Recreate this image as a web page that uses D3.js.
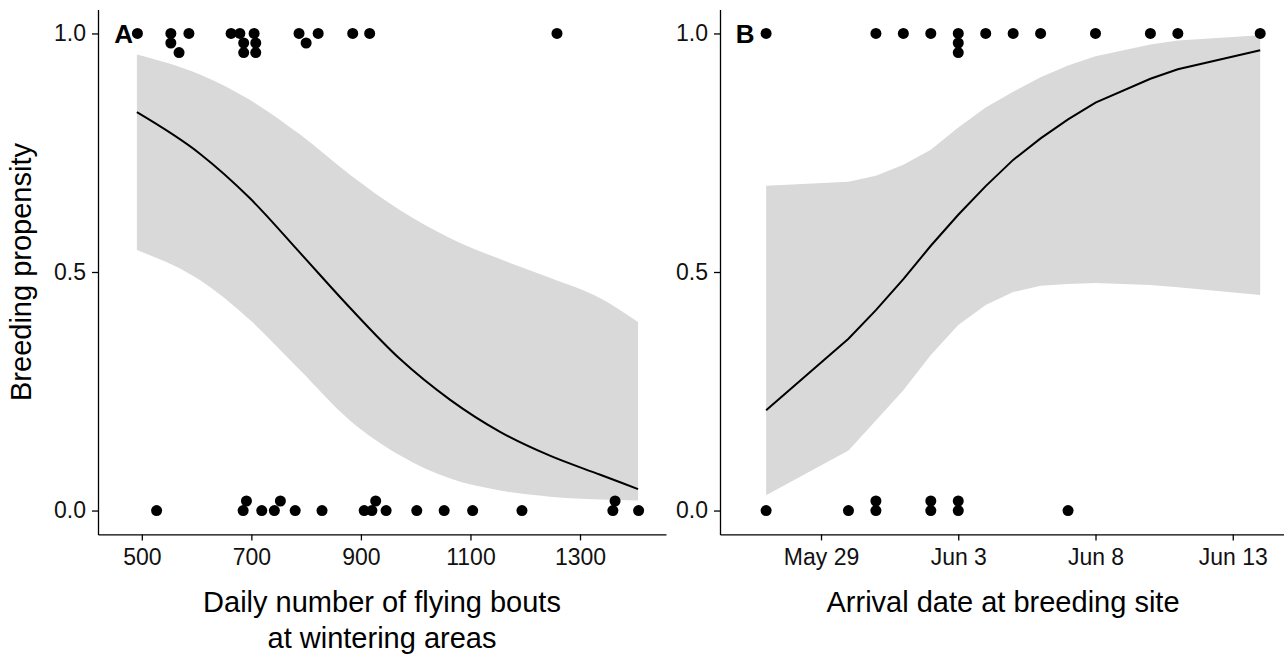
<!DOCTYPE html>
<html>
<head>
<meta charset="utf-8">
<script src="https://cdn.jsdelivr.net/npm/d3@7"></script>
<style>
  body { margin: 0; background: #fff; }
  svg { display: block; font-family: "Liberation Sans", Arial, sans-serif; }
</style>
</head>
<body>
<div id="chart"></div>
<script>
// ---- panel A: flying bouts ----
const boutsX = [492, 553, 553, 568, 586, 663, 679, 686, 686, 705, 708, 708, 787, 800, 822, 885, 916, 1258,
                527, 685, 691, 719, 742, 753, 780, 829, 906, 920, 927, 946, 1002, 1052, 1104, 1194, 1360, 1364, 1407];
const boutsY = [1, 1, 0.98, 0.96, 1, 1, 1, 0.98, 0.96, 1, 0.98, 0.96, 1, 0.98, 1, 1, 1, 1,
                0, 0, 0.02, 0, 0, 0.02, 0, 0, 0, 0, 0.02, 0, 0, 0, 0, 0, 0, 0.02, 0];
const boutsFitX = [491, 606, 697, 789, 880, 971, 1063, 1154, 1245, 1337, 1406];
const boutsFit = [0.835, 0.748, 0.655, 0.54, 0.425, 0.318, 0.232, 0.165, 0.115, 0.075, 0.045];
const boutsHi = [0.956, 0.914, 0.861, 0.788, 0.704, 0.63, 0.571, 0.527, 0.488, 0.445, 0.395];
const boutsLo = [0.546, 0.483, 0.40, 0.294, 0.189, 0.116, 0.067, 0.042, 0.029, 0.023, 0.021];
const boutsTicks = [500, 700, 900, 1100, 1300];

// ---- panel B: arrival date ----
const arrivalDates = ["2015-05-27", "2015-05-31", "2015-06-01", "2015-06-02", "2015-06-03", "2015-06-03", "2015-06-03",
                      "2015-06-04", "2015-06-05", "2015-06-06", "2015-06-08", "2015-06-10", "2015-06-11", "2015-06-14",
                      "2015-05-27", "2015-05-30", "2015-05-31", "2015-05-31", "2015-06-02", "2015-06-02",
                      "2015-06-03", "2015-06-03", "2015-06-07"];
const arrivalY = [1, 1, 1, 1, 1, 0.98, 0.96, 1, 1, 1, 1, 1, 1, 1,
                  0, 0, 0, 0.02, 0, 0.02, 0, 0.02, 0];
const fitDates = ["2015-05-27", "2015-05-30", "2015-05-31", "2015-06-01", "2015-06-02", "2015-06-03", "2015-06-04",
                  "2015-06-05", "2015-06-06", "2015-06-07", "2015-06-08", "2015-06-10", "2015-06-11", "2015-06-14"];
const arrivalFit = [0.21, 0.36, 0.42, 0.485, 0.555, 0.62, 0.68, 0.735, 0.78, 0.82, 0.855, 0.905, 0.925, 0.965];
const arrivalHi = [0.681, 0.689, 0.702, 0.725, 0.756, 0.803, 0.845, 0.878, 0.908, 0.933, 0.952, 0.977, 0.985, 0.996];
const arrivalLo = [0.032, 0.126, 0.189, 0.252, 0.326, 0.389, 0.431, 0.458, 0.471, 0.475, 0.477, 0.473, 0.468, 0.452];
const dateTicks = ["2015-05-29", "2015-06-03", "2015-06-08", "2015-06-13"];

const yTicks = [0, 0.5, 1];

const W = 1284, H = 655;
const parse = d3.timeParse("%Y-%m-%d");

const svg = d3.select("#chart").append("svg")
    .attr("width", W)
    .attr("height", H);

svg.append("rect").attr("width", W).attr("height", H).attr("fill", "#fff");

const y = d3.scaleLinear().domain([-0.05, 1.05]).range([534.4, 9.6]);

const xA = d3.scaleLinear().domain([420, 1457]).range([98, 666]);
const xB = d3.scaleTime()
    .domain([parse("2015-05-25").getTime() + 0.32 * 864e5, parse("2015-06-14").getTime() + 0.94 * 864e5])
    .range([720, 1286]);

function styleAxis(g) {
    g.selectAll(".domain").attr("stroke", "#000").attr("stroke-width", 1.3);
    g.selectAll(".tick line").attr("stroke", "#000").attr("stroke-width", 1.3);
    g.selectAll(".tick text").attr("fill", "#111").style("font-size", "23px")
        .attr("font-family", "Liberation Sans, Arial, sans-serif");
}

function drawPanel(x, fx, fit, lo, hi, px, py, curve, xAxis, label, labelX) {
    const band = d3.area()
        .x((d, i) => x(fx[i]))
        .y0((d, i) => y(lo[i]))
        .y1((d, i) => y(hi[i]))
        .curve(curve);
    svg.append("path").datum(fx).attr("d", band).attr("fill", "#d9d9d9");

    const line = d3.line()
        .x((d, i) => x(fx[i]))
        .y((d, i) => y(fit[i]))
        .curve(curve);
    svg.append("path").datum(fx).attr("d", line)
        .attr("fill", "none").attr("stroke", "#000").attr("stroke-width", 2);

    svg.append("g").selectAll("circle")
        .data(px)
        .enter().append("circle")
        .attr("cx", d => x(d))
        .attr("cy", (d, i) => y(py[i]))
        .attr("r", 5.5)
        .attr("fill", "#000");

    svg.append("g")
        .attr("transform", "translate(0," + y.range()[0] + ")")
        .call(xAxis)
        .call(styleAxis);

    svg.append("g")
        .attr("transform", "translate(" + x.range()[0] + ",0)")
        .call(d3.axisLeft(y).tickValues(yTicks).tickFormat(d3.format(".1f")).tickSize(6).tickPadding(6).tickSizeOuter(0))
        .call(styleAxis);

    svg.append("text")
        .attr("x", labelX)
        .attr("y", y(1))
        .attr("dy", "0.36em")
        .attr("text-anchor", "middle")
        .style("font-size", "26px")
        .style("font-weight", "bold")
        .text(label);
}

drawPanel(xA, boutsFitX, boutsFit, boutsLo, boutsHi, boutsX, boutsY, d3.curveMonotoneX,
    d3.axisBottom(xA).tickValues(boutsTicks).tickFormat(d3.format("d")).tickSize(6).tickPadding(8).tickSizeOuter(0),
    "A", xA(467));

const fitB = fitDates.map(parse);
drawPanel(xB, fitB, arrivalFit, arrivalLo, arrivalHi, arrivalDates.map(parse), arrivalY, d3.curveLinear,
    d3.axisBottom(xB).tickValues(dateTicks.map(parse)).tickFormat(d3.timeFormat("%b %-d")).tickSize(6).tickPadding(8).tickSizeOuter(0),
    "B", xB(parse("2015-05-25").getTime() + 1.24 * 864e5));

// axis titles
const titleA = svg.append("text")
    .attr("x", (xA.range()[0] + xA.range()[1]) / 2)
    .attr("y", 612)
    .attr("text-anchor", "middle")
    .style("font-size", "29px")
    .attr("fill", "#000");
titleA.append("tspan").attr("x", (xA.range()[0] + xA.range()[1]) / 2).text("Daily number of flying bouts");
titleA.append("tspan").attr("x", (xA.range()[0] + xA.range()[1]) / 2).attr("dy", 36).text("at wintering areas");

svg.append("text")
    .attr("x", (xB.range()[0] + xB.range()[1]) / 2)
    .attr("y", 612)
    .attr("text-anchor", "middle")
    .style("font-size", "29px")
    .attr("fill", "#000")
    .text("Arrival date at breeding site");

svg.append("text")
    .attr("transform", "translate(31," + ((y.range()[0] + y.range()[1]) / 2) + ") rotate(-90)")
    .attr("text-anchor", "middle")
    .style("font-size", "29px")
    .attr("fill", "#000")
    .text("Breeding propensity");
</script>
</body>
</html>
